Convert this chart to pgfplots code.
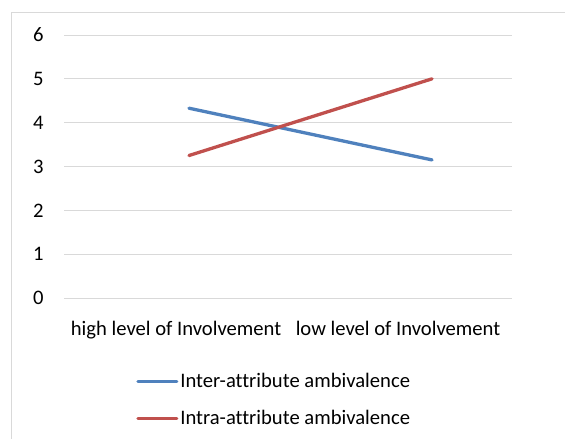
\documentclass[border=0pt]{standalone}
\usepackage{pgfplots}
\pgfplotsset{compat=1.18}
\usepackage{fontspec}
\setmainfont[Ligatures=NoCommon]{Carlito}
\definecolor{exblue}{HTML}{4F81BD}
\definecolor{exred}{HTML}{C0504D}
\definecolor{gridc}{HTML}{D9D9D9}
\begin{document}
\begin{tikzpicture}[x=1bp,y=1bp]
\path[use as bounding box] (0,0) rectangle (565,439);
\draw[gridc, line width=0.9bp] (11,-5) -- (11,427) -- (570,427);
\begin{axis}[
  at={(64bp,141bp)}, anchor=south west,
  scale only axis, width=448bp, height=263bp,
  xmin=-0.514, xmax=1.329, ymin=0, ymax=6,
  ytick={0,1,...,6},
  xtick={-0.053,0.86},
  xticklabels={high level of Involvement, low level of Involvement},
  axis line style={draw=none},
  axis x line*=bottom,
  ymajorgrids, grid style={gridc, line width=0.9bp},
  major tick length=0pt,
  tick label style={font=\fontsize{20.7}{24}\selectfont, text=black},
  /pgf/number format/assume math mode=true,
  yticklabel style={xshift=-17bp},
  xticklabel style={anchor=base, yshift=-38bp},
  legend style={at={(0.161,-0.279)}, anchor=north west, draw=none, fill=none,
    font=\fontsize{20.7}{24}\selectfont, row sep=17bp, inner sep=0pt},
  legend cell align=left,
  legend image code/.code={\draw[#1, line width=3bp] (0bp,0bp) -- (39bp,0bp);},
]
\addplot[exblue, line width=3.3bp, line cap=round] coordinates {(0,4.33) (1,3.15)};
\addlegendentry{Inter-attribute ambivalence}
\addplot[exred, line width=3.3bp, line cap=round] coordinates {(0,3.25) (1,5.0)};
\addlegendentry{Intra-attribute ambivalence}
\end{axis}
\end{tikzpicture}
\end{document}
